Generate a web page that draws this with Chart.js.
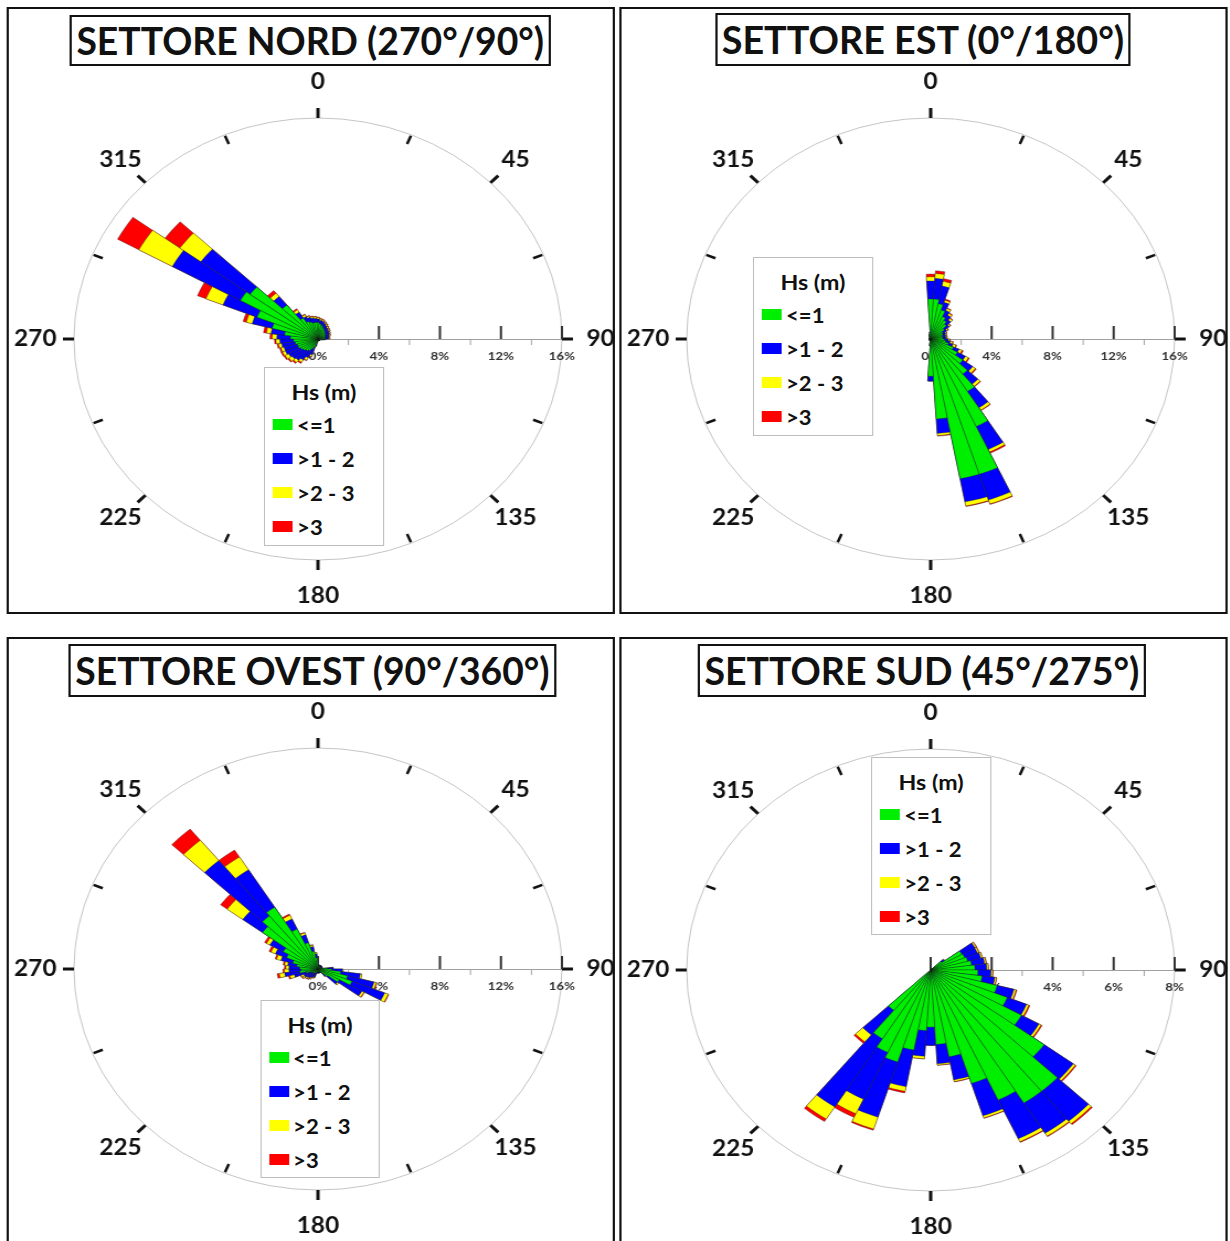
<!DOCTYPE html>
<html>
<head>
<meta charset="utf-8">
<script src="https://cdn.jsdelivr.net/npm/chart.js@4.4.1/dist/chart.umd.min.js"></script>
<style>
  html, body { margin: 0; padding: 0; background: #fff; overflow: hidden; }
  #page {
    position: absolute; left: 0; top: 0; width: 1115px; height: 1241px;
    transform: scaleX(1.104); transform-origin: 0 0;
    font-family: Lato, "Open Sans", sans-serif; color: #111;
  }
  .frame { position: absolute; border: 2px solid #111; box-sizing: border-box; }
  .head {
    position: absolute; border: 2px solid #111; box-sizing: border-box; background: #fff;
    font-weight: 700; font-size: 38px; white-space: nowrap; overflow: hidden;
  }
  .head span { position: absolute; left: 50%; top: 0; transform: translateX(-50%); }
  .legend { position: absolute; border: 1px solid #bdbdbd; box-sizing: border-box; background: #fff; font-weight: 700; }
  .legend .lt { position: absolute; left: 0; right: 0; text-align: center; font-size: 21px; }
  .legend .sw { position: absolute; width: 18px; height: 11px; }
  .legend .tx { position: absolute; font-size: 20px; line-height: 20px; }
  canvas { position: absolute; }
</style>
</head>
<body>
<div id="page"></div>
<script>
// direction bins, 50 sectors of 7.2 degrees centred on the label
const DIRS = Array.from({ length: 50 }, (_, i) => (i * 7.2).toFixed(1));
const CLASSES = ['<=1', '>1 - 2', '>2 - 3', '>3'];
const COLORS = ['#00ee00', '#0000ff', '#ffff00', '#ff0000'];
const COMPASS = [0, 45, 90, 135, 180, 225, 270, 315];

// frequencies (%) per Hs class, one value per direction bin
const NORD_LE1 = [1.2, 1.1, 1.0, 0.9, 0.8, 0.7, 0.65, 0.6, 0.55, 0.5,
  0.5, 0.45, 0.45, 0.3, 0.2, 0.1, 0.1, 0.1, 0.1, 0.1,
  0.1, 0.1, 0.1, 0.1, 0.1, 0.1, 0.1, 0.3, 0.6, 0.8,
  1.0, 1.1, 1.2, 1.3, 1.4, 1.4, 1.5, 1.6, 1.8, 2.2,
  3.1, 4.3, 5.8, 5.5, 3.2, 1.8, 1.4, 1.3, 1.2, 1.2];
const NORD_1_2 = [0.25, 0.25, 0.3, 0.3, 0.3, 0.3, 0.3, 0.3, 0.3, 0.3,
  0.25, 0.25, 0.25, 0.15, 0.1, 0.05, 0.05, 0.05, 0.05, 0.05,
  0.05, 0.05, 0.05, 0.05, 0.05, 0.05, 0.05, 0.2, 0.6, 0.7,
  0.8, 0.9, 0.9, 0.9, 0.9, 0.9, 0.9, 0.9, 0.9, 0.9,
  1.35, 2.4, 5.1, 4.0, 0.8, 0.5, 0.4, 0.35, 0.35, 0.3];
const NORD_2_3 = [0.1, 0.1, 0.1, 0.1, 0.1, 0.1, 0.08, 0.08, 0.07, 0.07,
  0.07, 0.07, 0.07, 0.05, 0.02, 0, 0, 0, 0, 0,
  0, 0, 0, 0, 0, 0, 0, 0.05, 0.15, 0.2,
  0.2, 0.2, 0.25, 0.25, 0.2, 0.2, 0.2, 0.25, 0.3, 0.3,
  0.4, 1.2, 2.5, 1.7, 0.3, 0.2, 0.15, 0.1, 0.1, 0.1];
const NORD_GT3 = [0.05, 0.05, 0.05, 0.05, 0.05, 0.05, 0.04, 0.04, 0.03, 0.03,
  0.03, 0.03, 0.03, 0, 0, 0, 0, 0, 0, 0,
  0, 0, 0, 0, 0, 0, 0, 0, 0.05, 0.05,
  0.1, 0.1, 0.1, 0.1, 0.1, 0.1, 0.1, 0.1, 0.15, 0.2,
  0.22, 0.6, 1.6, 1.2, 0.25, 0.1, 0.05, 0.05, 0.05, 0.05];

const EST_LE1 = [2.9, 2.9, 2.6, 2.2, 1.8, 1.6, 1.4, 1.1, 0.9, 0.85,
  0.8, 0.8, 0.8, 0.9, 1.0, 1.2, 1.6, 2.0, 2.6, 3.3,
  4.5, 7.0, 10.3, 10.3, 5.8, 2.7, 0.4, 0.1, 0.1, 0.1,
  0.1, 0.1, 0.1, 0.1, 0.1, 0.1, 0.1, 0.1, 0.1, 0.1,
  0.1, 0.1, 0.1, 0.1, 0.1, 0.1, 0.1, 0.2, 0.3, 0.4];
const EST_1_2 = [1.3, 1.5, 1.3, 0.6, 0.5, 0.45, 0.4, 0.4, 0.3, 0.2,
  0.2, 0.2, 0.2, 0.25, 0.3, 0.3, 0.4, 0.6, 0.8, 0.95,
  1.4, 1.85, 1.95, 1.7, 1.05, 0.35, 0.1, 0, 0, 0,
  0, 0, 0, 0, 0, 0, 0, 0, 0, 0,
  0, 0, 0, 0, 0, 0, 0, 0.05, 0.05, 0.1];
const EST_2_3 = [0.3, 0.35, 0.35, 0.15, 0.15, 0.15, 0.15, 0.1, 0.1, 0.07,
  0.07, 0.07, 0.07, 0.1, 0.15, 0.2, 0.2, 0.22, 0.22, 0.2,
  0.2, 0.2, 0.3, 0.3, 0.15, 0, 0, 0, 0, 0,
  0, 0, 0, 0, 0, 0, 0, 0, 0, 0,
  0, 0, 0, 0, 0, 0, 0, 0, 0, 0];
const EST_GT3 = [0.2, 0.2, 0.2, 0.1, 0.05, 0.05, 0.05, 0.05, 0.05, 0.03,
  0.03, 0.03, 0.03, 0.05, 0.05, 0.06, 0.1, 0.08, 0.08, 0.05,
  0.05, 0.1, 0.05, 0.05, 0.05, 0, 0, 0, 0, 0,
  0, 0, 0, 0, 0, 0, 0, 0, 0, 0,
  0, 0, 0, 0, 0, 0, 0, 0, 0, 0];

const OVEST_LE1 = [0.4, 0.2, 0.2, 0.2, 0.2, 0.2, 0.2, 0.2, 0.2, 0.2,
  0.2, 0.2, 0.6, 0.9, 1.5, 2.0, 2.4, 1.6, 0.8, 0.4,
  0.2, 0.2, 0.2, 0.2, 0.2, 0.2, 0.2, 0.2, 0.3, 0.3,
  0.35, 0.4, 0.4, 0.45, 0.5, 0.8, 1.2, 1.1, 1.2, 1.4,
  1.7, 2.2, 2.6, 4.5, 5.0, 5.3, 3.2, 2.0, 1.3, 0.8];
const OVEST_1_2 = [0.2, 0.1, 0.1, 0.1, 0.1, 0.1, 0.1, 0.1, 0.1, 0.1,
  0.1, 0.1, 0.4, 0.7, 1.3, 1.8, 2.3, 1.7, 0.8, 0.3,
  0.1, 0.1, 0.1, 0.1, 0.1, 0.1, 0.1, 0.1, 0.3, 0.35,
  0.4, 0.45, 0.5, 0.55, 0.5, 0.8, 1.0, 0.8, 0.7, 0.6,
  0.8, 0.8, 1.0, 1.6, 5.2, 3.2, 0.8, 0.6, 0.35, 0.3];
const OVEST_2_3 = [0, 0, 0, 0, 0, 0, 0, 0, 0, 0,
  0, 0, 0, 0.05, 0.1, 0.15, 0.25, 0.15, 0.1, 0.02,
  0, 0, 0, 0, 0, 0, 0, 0, 0.05, 0.05,
  0.1, 0.1, 0.1, 0.15, 0.2, 0.3, 0.35, 0.3, 0.2, 0.2,
  0.3, 0.3, 0.25, 1.26, 1.9, 1.1, 0.3, 0.15, 0.1, 0.1];
const OVEST_GT3 = [0, 0, 0, 0, 0, 0, 0, 0, 0, 0,
  0, 0, 0, 0, 0, 0.05, 0.05, 0.05, 0, 0,
  0, 0, 0, 0, 0, 0, 0, 0, 0.05, 0.05,
  0.05, 0.05, 0.05, 0.05, 0.05, 0.1, 0.15, 0.1, 0.1, 0.1,
  0.1, 0.15, 0.15, 0.54, 1.05, 0.6, 0.1, 0.05, 0.05, 0];

const SUD_LE1 = [0, 0, 0, 0, 0, 0, 0, 0.45, 1.17, 1.2,
  1.25, 1.35, 1.45, 1.55, 1.7, 2.25, 2.7, 3.4, 4.6, 5.7,
  5.7, 5.2, 4.32, 3.2, 2.7, 2.07, 2.2, 2.95, 3.5, 3.3,
  2.95, 1.9, 0, 0, 0, 0, 0, 0, 0, 0,
  0, 0, 0, 0, 0, 0, 0, 0, 0, 0];
const SUD_1_2 = [0, 0, 0, 0, 0, 0, 0, 0.1, 0.49, 0.45,
  0.45, 0.43, 0.39, 0.43, 0.42, 0.57, 0.68, 0.65, 1.18, 1.4,
  1.3, 1.55, 1.23, 0.85, 0.7, 0.66, 0.93, 1.35, 2.1, 1.87,
  2.92, 1.15, 0, 0, 0, 0, 0, 0, 0, 0,
  0, 0, 0, 0, 0, 0, 0, 0, 0, 0];
const SUD_2_3 = [0, 0, 0, 0, 0, 0, 0, 0.02, 0.05, 0.05,
  0.05, 0.05, 0.05, 0.05, 0.05, 0.07, 0.08, 0.08, 0.08, 0.12,
  0.12, 0.12, 0.08, 0.06, 0.05, 0, 0.09, 0.17, 0.45, 0.58,
  0.52, 0.33, 0, 0, 0, 0, 0, 0, 0, 0,
  0, 0, 0, 0, 0, 0, 0, 0, 0, 0];
const SUD_GT3 = [0, 0, 0, 0, 0, 0, 0, 0.01, 0.02, 0.02,
  0.01, 0.02, 0.01, 0.02, 0.02, 0.03, 0.04, 0.04, 0.04, 0.05,
  0.03, 0.03, 0.02, 0.02, 0.01, 0, 0.01, 0.06, 0.05, 0.15,
  0.11, 0.07, 0, 0, 0, 0, 0, 0, 0, 0,
  0, 0, 0, 0, 0, 0, 0, 0, 0, 0];

// layout in unstretched px: frame, title box, legend box [x, y, w, h], rose centre
const PANELS = [
  { title: 'SETTORE NORD (270°/90°)', series: [NORD_LE1, NORD_1_2, NORD_2_3, NORD_GT3], max: 16, step: 4,
    frame: [6.3, 7, 550.7, 607], head: [63.4, 15, 435.7, 51], legend: [239.1, 367, 108.7, 179], center: [288, 338.5] },
  { title: 'SETTORE EST (0°/180°)', series: [EST_LE1, EST_1_2, EST_2_3, EST_GT3], max: 16, step: 4,
    frame: [560.7, 7, 551.6, 607], head: [647.6, 13, 376, 53], legend: [682, 257, 108.7, 179], center: [843.3, 338.5] },
  { title: 'SETTORE OVEST (90°/360°)', series: [OVEST_LE1, OVEST_1_2, OVEST_2_3, OVEST_GT3], max: 16, step: 4,
    frame: [6.3, 637, 550.7, 612], head: [61.6, 644, 442, 53], legend: [235.5, 1000, 108.7, 178], center: [288, 969] },
  { title: 'SETTORE SUD (45°/275°)', series: [SUD_LE1, SUD_1_2, SUD_2_3, SUD_GT3], max: 8, step: 2,
    frame: [560.7, 637, 551.6, 612], head: [632.2, 644, 405.8, 53], legend: [789, 757, 108.7, 178], center: [843.3, 969.5] }
];

const page = document.getElementById('page');
const CANVAS = 600, PAD = 79;   // 442 px plot square -> radius 221

function box(cls, r) {
  const d = document.createElement('div');
  d.className = cls;
  d.style.left = r[0] + 'px'; d.style.top = r[1] + 'px';
  d.style.width = r[2] + 'px'; d.style.height = r[3] + 'px';
  page.appendChild(d);
  return d;
}

const roseDecor = {
  id: 'roseDecor',
  beforeDatasetsDraw(chart, args, opts) {
    const s = chart.scales.r, ctx = chart.ctx;
    const cx = s.xCenter, cy = s.yCenter, R = s.drawingArea;
    ctx.save();
    // outer ring
    ctx.strokeStyle = '#c4c4c4'; ctx.lineWidth = 1;
    ctx.beginPath(); ctx.arc(cx, cy, R, 0, Math.PI * 2); ctx.stroke();
    // compass ticks every 22.5 deg
    ctx.strokeStyle = '#111'; ctx.lineCap = 'butt';
    for (let i = 0; i < 16; i++) {
      const a = (i * 22.5 - 90) * Math.PI / 180;
      const major = i % 2 === 0;
      const r1 = major ? R : R - 10, r2 = major ? R + 10 : R - 1;
      ctx.lineWidth = major ? 3 : 2.5;
      ctx.beginPath();
      ctx.moveTo(cx + Math.cos(a) * r1, cy + Math.sin(a) * r1);
      ctx.lineTo(cx + Math.cos(a) * r2, cy + Math.sin(a) * r2);
      ctx.stroke();
    }
    ctx.fillStyle = '#111';
    ctx.font = 'bold 22px Lato, sans-serif';
    ctx.textAlign = 'center'; ctx.textBaseline = 'middle';
    COMPASS.forEach(deg => {
      const a = (deg - 90) * Math.PI / 180;
      const gap = deg % 90 === 0 ? (deg % 180 === 0 ? 36 : 35) : 32;
      ctx.fillText(String(deg), cx + Math.cos(a) * (R + gap), cy + Math.sin(a) * (R + gap));
    });
    // radial axis along 90 deg
    ctx.strokeStyle = '#a0a0a0'; ctx.lineWidth = 1;
    ctx.beginPath(); ctx.moveTo(cx, cy + 0.5); ctx.lineTo(cx + R, cy + 0.5); ctx.stroke();
    const step = opts.step, half = step / 2;
    ctx.font = 'bold 12px Lato, sans-serif';
    ctx.textBaseline = 'middle';
    for (let v = 0; v <= s.max + 1e-9; v += half) {
      const x = cx + s.getDistanceFromCenterForValue(v);
      if (Math.abs(v / step - Math.round(v / step)) < 1e-6) {
        ctx.strokeStyle = '#333'; ctx.lineWidth = 2;
        ctx.beginPath(); ctx.moveTo(x, cy); ctx.lineTo(x, cy - 13); ctx.stroke();
        ctx.fillStyle = '#333';
        ctx.fillText(v + '%', x, cy + 17);
      } else {
        ctx.strokeStyle = '#a0a0a0'; ctx.lineWidth = 1;
        ctx.beginPath(); ctx.moveTo(x, cy); ctx.lineTo(x, cy + 6); ctx.stroke();
      }
    }
    ctx.restore();
  }
};

PANELS.forEach(p => {
  box('frame', p.frame);

  const head = box('head', p.head);
  head.style.lineHeight = (p.head[3] - 4) + 'px';
  const span = document.createElement('span');
  span.textContent = p.title;
  head.appendChild(span);

  const canvas = document.createElement('canvas');
  canvas.width = CANVAS; canvas.height = CANVAS;
  canvas.style.left = (p.center[0] - CANVAS / 2) + 'px';
  canvas.style.top = (p.center[1] - CANVAS / 2) + 'px';
  page.appendChild(canvas);

  // stacked rose: cumulative totals, innermost class drawn last (on top)
  let running = DIRS.map(() => 0);
  const datasets = p.series.map((vals, k) => {
    running = running.map((r, i) => r + vals[i]);
    return {
      label: CLASSES[k],
      data: running.slice(),
      backgroundColor: COLORS[k],
      borderColor: 'rgba(20,20,20,0.55)',
      borderWidth: 0.6
    };
  });

  new Chart(canvas, {
    type: 'polarArea',
    data: { labels: DIRS, datasets },
    options: {
      responsive: false,
      animation: false,
      devicePixelRatio: 1,
      layout: { padding: PAD },
      plugins: { legend: { display: false }, tooltip: { enabled: false }, roseDecor: { step: p.step } },
      scales: {
        r: {
          min: 0, max: p.max, startAngle: -3.6,
          ticks: { display: false },
          grid: { display: false },
          angleLines: { display: false },
          pointLabels: { display: false }
        }
      }
    },
    plugins: [roseDecor]
  });

  const lg = box('legend', p.legend);
  const lt = document.createElement('div');
  lt.className = 'lt'; lt.style.top = '11px'; lt.textContent = 'Hs (m)';
  lg.appendChild(lt);
  CLASSES.forEach((c, k) => {
    const y = 57 + k * 34;
    const sw = document.createElement('div');
    sw.className = 'sw'; sw.style.left = '7px'; sw.style.top = (y - 6) + 'px';
    sw.style.background = COLORS[k];
    lg.appendChild(sw);
    const tx = document.createElement('div');
    tx.className = 'tx'; tx.style.left = '29px'; tx.style.top = (y - 10) + 'px';
    tx.textContent = c;
    lg.appendChild(tx);
  });
});

// squeeze titles so they fit inside their box, keeping them centred
document.querySelectorAll('.head span').forEach(sp => {
  const avail = sp.parentNode.clientWidth - 8;
  const w = sp.offsetWidth;
  const k = Math.min(1, avail / w);
  sp.style.transform = 'translateX(-50%) scaleX(' + k.toFixed(3) + ')';
});
</script>
</body>
</html>
